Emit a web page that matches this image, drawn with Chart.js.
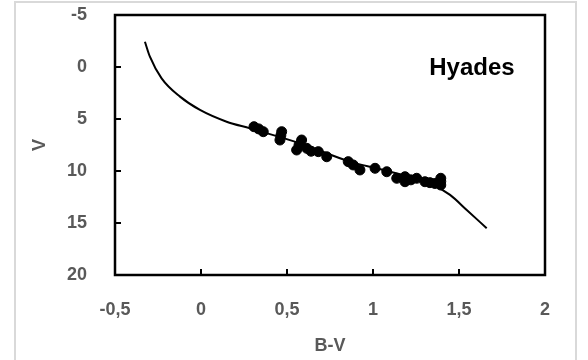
<!DOCTYPE html>
<html>
<head>
<meta charset="utf-8">
<script src="https://cdn.jsdelivr.net/npm/chart.js@4.4.0/dist/chart.umd.min.js"></script>
<style>
  html, body { margin: 0; padding: 0; background: #ffffff; }
  #wrap { width: 588px; height: 360px; }
</style>
</head>
<body>
<div id="wrap"><canvas id="hrChart" width="588" height="360"></canvas></div>
<script>
// Main sequence curve (B-V, V)
const curveBV = [-0.326, -0.297, -0.229, -0.122, -0.006, 0.149, 0.285, 0.576, 0.866, 1.06, 1.35, 1.448, 1.545, 1.661];
const curveV = [-2.43, -0.99, 1.09, 2.85, 4.13, 5.26, 5.9, 7.34, 9.1, 9.9, 11.35, 12.3, 13.75, 15.5];

// Hyades stars (B-V, V)
const starBV = [0.308, 0.335, 0.362, 0.469, 0.459, 0.464, 0.585, 0.556, 0.57, 0.615, 0.64, 0.682, 0.731, 0.856, 0.885, 0.924, 1.012, 1.08, 1.138, 1.186, 1.186, 1.22, 1.254, 1.302, 1.331, 1.36, 1.394, 1.394, 1.394];
const starV = [5.74, 5.95, 6.22, 6.22, 7.02, 6.6, 7.02, 7.98, 7.5, 7.82, 8.1, 8.14, 8.63, 9.1, 9.42, 9.9, 9.74, 10.07, 10.7, 10.55, 11.03, 10.85, 10.7, 11.03, 11.12, 11.2, 10.7, 11.0, 11.35];

// Axis ticks
const xTicks = [-0.5, 0, 0.5, 1, 1.5, 2];
const yTicks = [-5, 0, 5, 10, 15, 20];

const clusterName = 'Hyades';

const labelGray = '#595959';
const font = 'Liberation Sans';

// Frame, inward tick marks and cluster name
const framePlugin = {
    id: 'frame',
    beforeDraw(chart) {
        const ctx = chart.ctx;
        ctx.save();
        ctx.strokeStyle = '#d9d9d9';
        ctx.lineWidth = 2;
        ctx.beginPath();
        ctx.moveTo(15, 362);
        ctx.lineTo(15, 2);
        ctx.lineTo(576, 2);
        ctx.lineTo(576, 362);
        ctx.stroke();
        ctx.restore();
    },
    afterDatasetsDraw(chart) {
        const ctx = chart.ctx;
        const a = chart.chartArea;
        const xs = chart.scales.x;
        const ys = chart.scales.y;
        ctx.save();
        ctx.strokeStyle = '#000000';
        ctx.lineWidth = 2.5;
        ctx.strokeRect(a.left, a.top, a.right - a.left, a.bottom - a.top);
        ctx.lineWidth = 2;
        ctx.beginPath();
        xTicks.slice(1, -1).forEach(v => {
            const px = xs.getPixelForValue(v);
            ctx.moveTo(px, a.bottom);
            ctx.lineTo(px, a.bottom - 6);
        });
        yTicks.slice(1, -1).forEach(v => {
            const py = ys.getPixelForValue(v);
            ctx.moveTo(a.left, py);
            ctx.lineTo(a.left + 6, py);
        });
        ctx.stroke();

        ctx.fillStyle = '#000000';
        ctx.font = 'bold 24px "' + font + '"';
        ctx.textAlign = 'center';
        ctx.textBaseline = 'middle';
        ctx.fillText(clusterName, xs.getPixelForValue(1.575), ys.getPixelForValue(0.1));
        ctx.restore();
    }
};

const ctx = document.getElementById('hrChart').getContext('2d');
new Chart(ctx, {
    type: 'scatter',
    data: {
        datasets: [
            {
                label: 'Stars',
                data: starBV.map((b, i) => ({ x: b, y: starV[i] })),
                backgroundColor: '#000000',
                borderColor: '#000000',
                pointRadius: 5,
                pointHoverRadius: 5,
                order: 2
            },
            {
                label: 'Main sequence',
                type: 'line',
                data: curveBV.map((b, i) => ({ x: b, y: curveV[i] })),
                borderColor: '#000000',
                borderWidth: 2,
                pointRadius: 0,
                fill: false,
                cubicInterpolationMode: 'monotone',
                order: 1
            }
        ]
    },
    options: {
        responsive: false,
        animation: false,
        layout: {
            padding: { left: 20, right: 43, top: 15, bottom: 0 }
        },
        plugins: {
            legend: { display: false },
            tooltip: { enabled: false }
        },
        scales: {
            x: {
                type: 'linear',
                min: -0.5,
                max: 2,
                afterBuildTicks: (scale) => { scale.ticks = xTicks.map(v => ({ value: v })); },
                afterFit: (scale) => {
                    scale.height = 85;
                    scale.paddingLeft = 0;
                    scale.paddingRight = 0;
                },
                grid: { display: false, drawTicks: false },
                border: { display: false },
                ticks: {
                    padding: 24,
                    color: labelGray,
                    font: { family: font, size: 18, weight: 'bold' },
                    callback: (v) => String(v).replace('.', ',')
                },
                title: {
                    display: true,
                    text: 'B-V',
                    color: labelGray,
                    font: { family: font, size: 18, weight: 'bold' },
                    padding: { top: 0, bottom: 3 }
                }
            },
            y: {
                type: 'linear',
                reverse: true,
                min: -5,
                max: 20,
                afterBuildTicks: (scale) => { scale.ticks = yTicks.map(v => ({ value: v })); },
                afterFit: (scale) => {
                    scale.width = 95;
                    scale.paddingTop = 0;
                    scale.paddingBottom = 0;
                },
                grid: { display: false, drawTicks: false },
                border: { display: false },
                ticks: {
                    padding: 28,
                    color: labelGray,
                    font: { family: font, size: 18, weight: 'bold' }
                },
                title: {
                    display: true,
                    text: 'V',
                    color: labelGray,
                    font: { family: font, size: 18, weight: 'bold' },
                    padding: { top: 9, bottom: 0 }
                }
            }
        }
    },
    plugins: [framePlugin]
});
</script>
</body>
</html>
